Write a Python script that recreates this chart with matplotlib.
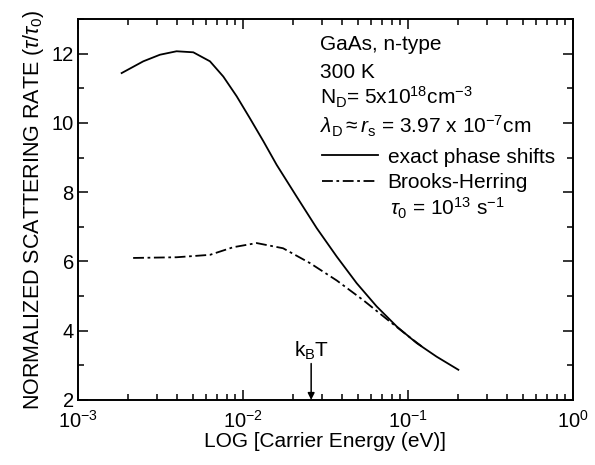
import numpy as np
import matplotlib
matplotlib.use("Agg")
import matplotlib.pyplot as plt
from matplotlib.ticker import LogLocator, MultipleLocator

# Data
exact_e = [1.84e-3, 2.49e-3, 3.14e-3, 3.96e-3, 5.0e-3, 6.31e-3, 7.6e-3, 9.16e-3,
           1.10e-2, 1.33e-2, 1.60e-2, 2.11e-2, 2.80e-2, 3.70e-2, 4.89e-2,
           6.46e-2, 8.55e-2, 1.13e-1, 1.49e-1, 2.02e-1]
exact_rate = [11.44, 11.78, 11.97, 12.07, 12.04, 11.78, 11.34, 10.77,
              10.14, 9.47, 8.79, 7.88, 6.96, 6.14, 5.37,
              4.70, 4.12, 3.64, 3.25, 2.87]

bh_e = [2.16e-3, 3.96e-3, 6.31e-3, 8.73e-3, 1.21e-2, 1.75e-2, 2.55e-2,
        3.70e-2, 5.36e-2, 7.78e-2, 1.03e-1, 1.24e-1]
bh_rate = [6.10, 6.12, 6.19, 6.41, 6.53, 6.38, 5.95,
           5.45, 4.88, 4.26, 3.80, 3.51]

kbt = 0.0259

plt.rcParams['font.family'] = ['Liberation Sans', 'DejaVu Sans']
plt.rcParams['mathtext.fontset'] = 'custom'
plt.rcParams['mathtext.rm'] = 'Liberation Sans'
plt.rcParams['mathtext.it'] = 'Liberation Sans:italic'
plt.rcParams['mathtext.bf'] = 'Liberation Sans:bold'


def main():
    fig = plt.figure(figsize=(5.95, 4.65), dpi=100)
    ax = fig.add_axes([0.131, 0.140, 0.832, 0.819])

    ax.plot(exact_e, exact_rate, color='black', lw=1.3, label='exact phase shifts')
    ax.plot(bh_e, bh_rate, color='black', lw=1.3, linestyle=(0, (6, 2, 1.5, 2)),
            label='Brooks-Herring')

    ax.set_xscale('log')
    ax.set_xlim(1e-3, 1e0)
    ax.set_ylim(2, 13)

    ax.xaxis.set_major_locator(LogLocator(base=10, numticks=10))
    ax.xaxis.set_minor_locator(LogLocator(base=10, subs=np.arange(2, 10), numticks=10))
    ax.yaxis.set_major_locator(MultipleLocator(2))
    ax.yaxis.set_minor_locator(MultipleLocator(1))
    ax.tick_params(which='both', direction='in', top=True, right=True,
                   labelsize=14.5, width=1.1)
    ax.tick_params(which='major', length=7)
    ax.tick_params(which='minor', length=4)
    ax.tick_params(axis='x', pad=7)
    ax.tick_params(axis='y', pad=3)
    for s in ax.spines.values():
        s.set_linewidth(1.4)

    ax.set_xlabel('LOG [Carrier Energy (eV)]', fontsize=15, labelpad=0)
    ax.set_ylabel(r'NORMALIZED SCATTERING RATE ($\tau/\tau_\mathregular{0}$)',
                  fontsize=15.5, labelpad=4)

    # k_B T marker
    ax.annotate('', xy=(kbt, 2.0), xytext=(kbt, 3.05),
                arrowprops=dict(arrowstyle='-|>', color='black', lw=1.1,
                                mutation_scale=10, shrinkA=0, shrinkB=0))
    ax.text(kbt, 3.1, r'k$_\mathregular{B}$T', ha='center', va='bottom', fontsize=15)

    tx = 0.489
    fs = 15
    ax.text(tx, 0.932, 'GaAs, n-type', transform=ax.transAxes, fontsize=fs, va='center')
    ax.text(tx, 0.861, '300 K', transform=ax.transAxes, fontsize=fs, va='center')
    ax.text(tx, 0.793, r'N$_\mathregular{D}$= 5x10$^\mathregular{18}$cm$^\mathregular{-3}$',
            transform=ax.transAxes, fontsize=fs, va='center')
    ax.text(tx, 0.719, r'$\lambda_\mathregular{D}\approx r_\mathregular{s}$ = 3.97 x 10$^\mathregular{-7}$cm',
            transform=ax.transAxes, fontsize=fs, va='center')
    ax.text(0.630, 0.503, r'$\tau_\mathregular{0}$ = 10$^\mathregular{13}$ s$^\mathregular{-1}$',
            transform=ax.transAxes, fontsize=fs, va='center')

    ax.legend(loc='center left', bbox_to_anchor=(0.493, 0.604), frameon=False,
              fontsize=fs, handlelength=2.7, handletextpad=0.45, labelspacing=0.3,
              borderaxespad=0, borderpad=0)

    fig.savefig('out.png', dpi=100)


if __name__ == "__main__":
    main()
